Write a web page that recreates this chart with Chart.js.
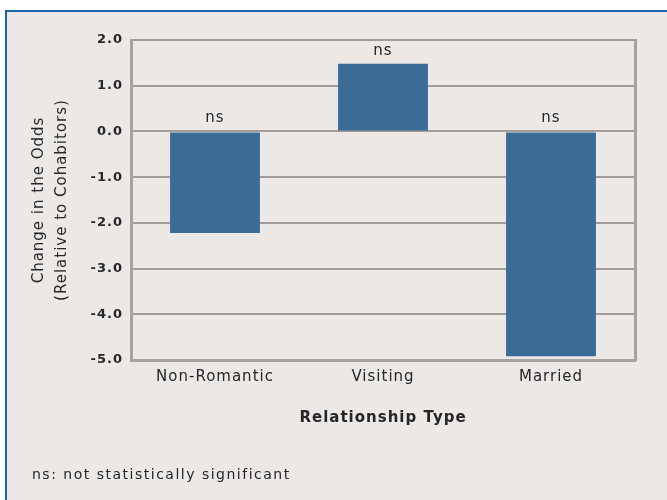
<!DOCTYPE html>
<html>
<head>
<meta charset="utf-8">
<script src="https://cdn.jsdelivr.net/npm/chart.js@4/dist/chart.umd.min.js"></script>
<style>
  html, body { margin: 0; padding: 0; background: #fff; }
  #frame {
    position: absolute; left: 5px; top: 10px; width: 660px; height: 488px;
    border-left: 2px solid #1766aa; border-top: 2px solid #1766aa;
    background: #ebe8e6;
  }
  #wrap { position: absolute; left: 0; top: 0; width: 667px; height: 500px; }
</style>
</head>
<body>
<div id="frame"></div>
<div id="wrap"><canvas id="oddsChart"></canvas></div>
<script>
const categories = ["Non-Romantic", "Visiting", "Married"];
const oddsChange = [-2.22, 1.48, -4.92];
const sigLabels = ["ns", "ns", "ns"];
const yTicks = [2, 1, 0, -1, -2, -3, -4, -5];
const footnote = "ns: not statistically significant";

const fam = "'DejaVu Sans', sans-serif";
const textColor = "#262626";
const gridColor = "#a39c96";
const axisColor = "#a8a29c";
const barColor = "#3b6b97";

// the original text is widely spaced, canvas letterSpacing gets reset on resize
const spacing = {
    id: "spacing",
    beforeDraw(chart) {
        chart.ctx.letterSpacing = "1px";
    }
};

const nsLabels = {
    id: "nsLabels",
    afterDatasetsDraw(chart) {
        const ctx = chart.ctx;
        const y = chart.scales.y;
        const bars = chart.getDatasetMeta(0).data;
        ctx.save();
        ctx.font = "15px " + fam;
        ctx.letterSpacing = "1px";
        ctx.fillStyle = textColor;
        ctx.textAlign = "center";
        ctx.textBaseline = "middle";
        bars.forEach(function(bar, i) {
            const top = y.getPixelForValue(Math.max(oddsChange[i], 0));
            ctx.fillText(sigLabels[i], bar.x, top - 13);
        });
        ctx.restore();
    },
    afterDraw(chart) {
        const ctx = chart.ctx;
        ctx.save();
        ctx.font = "14px " + fam;
        ctx.letterSpacing = "1.5px";
        ctx.fillStyle = textColor;
        ctx.textAlign = "left";
        ctx.textBaseline = "middle";
        ctx.fillText(footnote, 32, 475);
        ctx.restore();
    }
};

new Chart(document.getElementById("oddsChart"), {
    type: "bar",
    data: {
        labels: categories,
        datasets: [{
            data: oddsChange,
            backgroundColor: barColor,
            borderWidth: 0,
            barPercentage: 0.535,
            categoryPercentage: 1
        }]
    },
    options: {
        responsive: true,
        maintainAspectRatio: false,
        animation: false,
        layout: { padding: { top: 40, left: 0, right: 0, bottom: 0 } },
        plugins: {
            legend: { display: false },
            tooltip: { enabled: false }
        },
        scales: {
            x: {
                afterFit: function(s) { s.height = 140; },
                grid: { display: false, drawTicks: false },
                border: { display: true, color: axisColor, width: 3 },
                ticks: {
                    padding: 8,
                    color: textColor,
                    font: { family: fam, size: 15 }
                },
                title: {
                    display: true,
                    text: "Relationship Type",
                    color: textColor,
                    font: { family: fam, size: 15, weight: "bold", lineHeight: 1.2 },
                    padding: { top: 0, bottom: 73 }
                }
            },
            y: {
                min: -5,
                max: 2,
                afterBuildTicks: function(s) {
                    s.ticks = yTicks.map(function(v) { return { value: v }; });
                },
                afterFit: function(s) { s.width = 131; },
                grid: { color: gridColor, lineWidth: 2, drawTicks: false },
                border: { display: true, color: axisColor, width: 3 },
                ticks: {
                    padding: 8,
                    color: textColor,
                    font: { family: fam, size: 13, weight: "bold" },
                    callback: function(v) { return v.toFixed(1); }
                },
                title: {
                    display: true,
                    text: ["Change in the Odds", "(Relative to Cohabitors)"],
                    color: textColor,
                    font: { family: fam, size: 15, lineHeight: 1.53 },
                    padding: { top: 28, bottom: 0 }
                }
            },
            y2: {
                position: "right",
                min: -5,
                max: 2,
                afterFit: function(s) { s.width = 32; },
                ticks: { display: false },
                grid: { drawOnChartArea: false, drawTicks: false },
                border: { display: true, color: axisColor, width: 3 }
            }
        }
    },
    plugins: [spacing, nsLabels]
});
</script>
</body>
</html>
